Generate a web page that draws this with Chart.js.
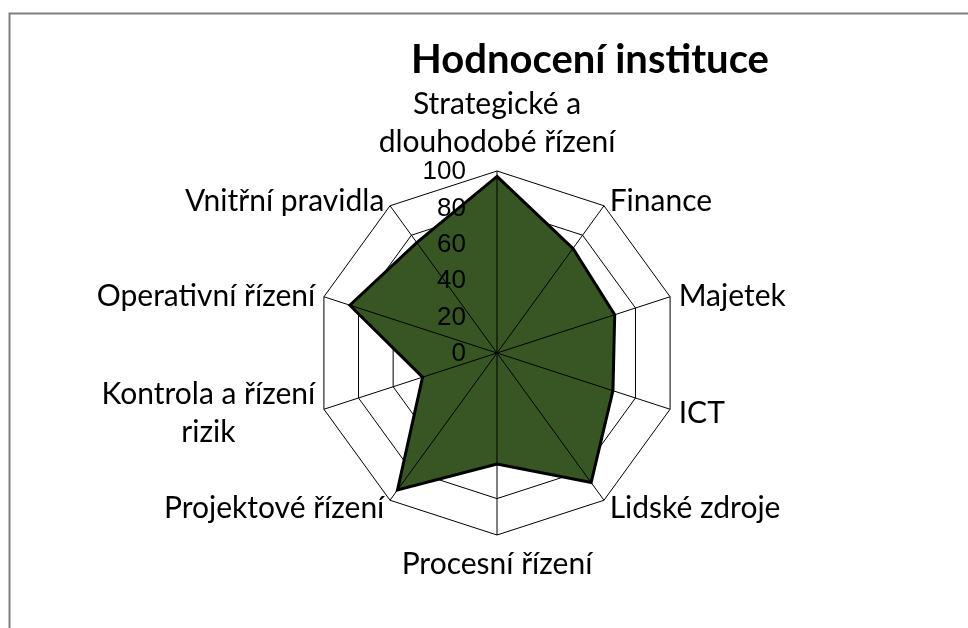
<!DOCTYPE html>
<html>
<head>
<meta charset="utf-8">
<title>Hodnocení instituce</title>
<script src="https://cdn.jsdelivr.net/npm/chart.js@4.4.1/dist/chart.umd.min.js"></script>
<style>
    body { margin: 0; background: #ffffff; }
    canvas { display: block; }
</style>
</head>
<body>
<canvas id="chart" width="968" height="628"></canvas>
<script>
const chartTitle = 'Hodnocení instituce';
const categories = [
    ['Strategické a', 'dlouhodobé řízení'],
    'Finance',
    'Majetek',
    'ICT',
    'Lidské zdroje',
    'Procesní řízení',
    'Projektové řízení',
    ['Kontrola a řízení', 'rizik'],
    'Operativní řízení',
    'Vnitřní pravidla'
];
const scores = [97, 71, 68, 67, 88, 61, 93, 43, 85, 75];
const tickValues = [0, 20, 40, 60, 80, 100];

// Excel-like labels, spokes and tick numbers drawn through the r scale
const overlay = {
    id: 'overlay',
    beforeDraw(chart) {
        const ctx = chart.ctx;
        ctx.save();
        ctx.strokeStyle = '#7f7f7f';
        ctx.lineWidth = 2;
        ctx.strokeRect(9.5, 13.5, 2000, 2000);

        ctx.fillStyle = '#000000';
        ctx.font = 'bold 40px Lato';
        ctx.textAlign = 'center';
        ctx.textBaseline = 'middle';
        ctx.fillText(chartTitle, 590, 60);
        ctx.restore();
    },
    afterDatasetsDraw(chart) {
        const ctx = chart.ctx;
        const scale = chart.scales.r;
        const R = scale.drawingArea;
        const n = categories.length;

        ctx.save();
        ctx.strokeStyle = '#000000';
        ctx.lineWidth = 1;
        ctx.beginPath();
        for (let i = 0; i < n; i++) {
            const p = scale.getPointPosition(i, R);
            ctx.moveTo(scale.xCenter, scale.yCenter);
            ctx.lineTo(p.x, p.y);
        }
        ctx.stroke();

        ctx.fillStyle = '#000000';
        ctx.font = '26px "Liberation Sans"';
        ctx.textAlign = 'right';
        ctx.textBaseline = 'middle';
        scale.ticks.forEach(tick => {
            const y = scale.yCenter - scale.getDistanceFromCenterForValue(tick.value);
            ctx.fillText(tick.label, scale.xCenter - 31, y + 1);
        });

        ctx.font = '30px Lato';
        ctx.textAlign = 'center';
        const lineHeight = 38;
        categories.forEach((label, i) => {
            const lines = [].concat(label);
            const angle = i / n * Math.PI * 2;
            const s = Math.sin(angle);
            const c = Math.cos(angle);
            const vertex = scale.getPointPosition(i, R);
            const p = scale.getPointPosition(i, R + 8);
            const w = Math.max(...lines.map(l => ctx.measureText(l).width));
            let cx, firstY;
            if (Math.abs(s) < 0.01) {
                cx = vertex.x;
                if (c > 0) {
                    firstY = vertex.y - 29 - (lines.length - 1) * lineHeight;
                } else {
                    firstY = vertex.y + 29.5;
                }
            } else {
                cx = s > 0 ? p.x + 1 + w / 2 : p.x - 1 - w / 2;
                firstY = p.y + 2 - (lines.length - 1) * lineHeight / 2;
            }
            lines.forEach((line, j) => {
                ctx.fillText(line, cx, firstY + j * lineHeight);
            });
        });
        ctx.restore();
    }
};

document.addEventListener("DOMContentLoaded", () => {
    const canvas = document.getElementById('chart');

    new Chart(canvas, {
        type: 'radar',
        data: {
            labels: categories,
            datasets: [{
                label: chartTitle,
                data: scores,
                fill: true,
                backgroundColor: '#375623',
                borderColor: '#000000',
                borderWidth: 3,
                borderJoinStyle: 'miter',
                pointRadius: 0,
                pointHoverRadius: 0
            }]
        },
        options: {
            responsive: false,
            animation: false,
            layout: {
                padding: { left: 315, right: 289, top: 171, bottom: 93 }
            },
            scales: {
                r: {
                    min: tickValues[0],
                    max: tickValues[tickValues.length - 1],
                    ticks: {
                        display: false,
                        stepSize: tickValues[1] - tickValues[0]
                    },
                    grid: { color: '#000000', lineWidth: 1 },
                    angleLines: { display: false },
                    pointLabels: { display: false }
                }
            },
            plugins: {
                legend: { display: false },
                tooltip: { enabled: false }
            }
        },
        plugins: [overlay]
    });
});
</script>
</body>
</html>
